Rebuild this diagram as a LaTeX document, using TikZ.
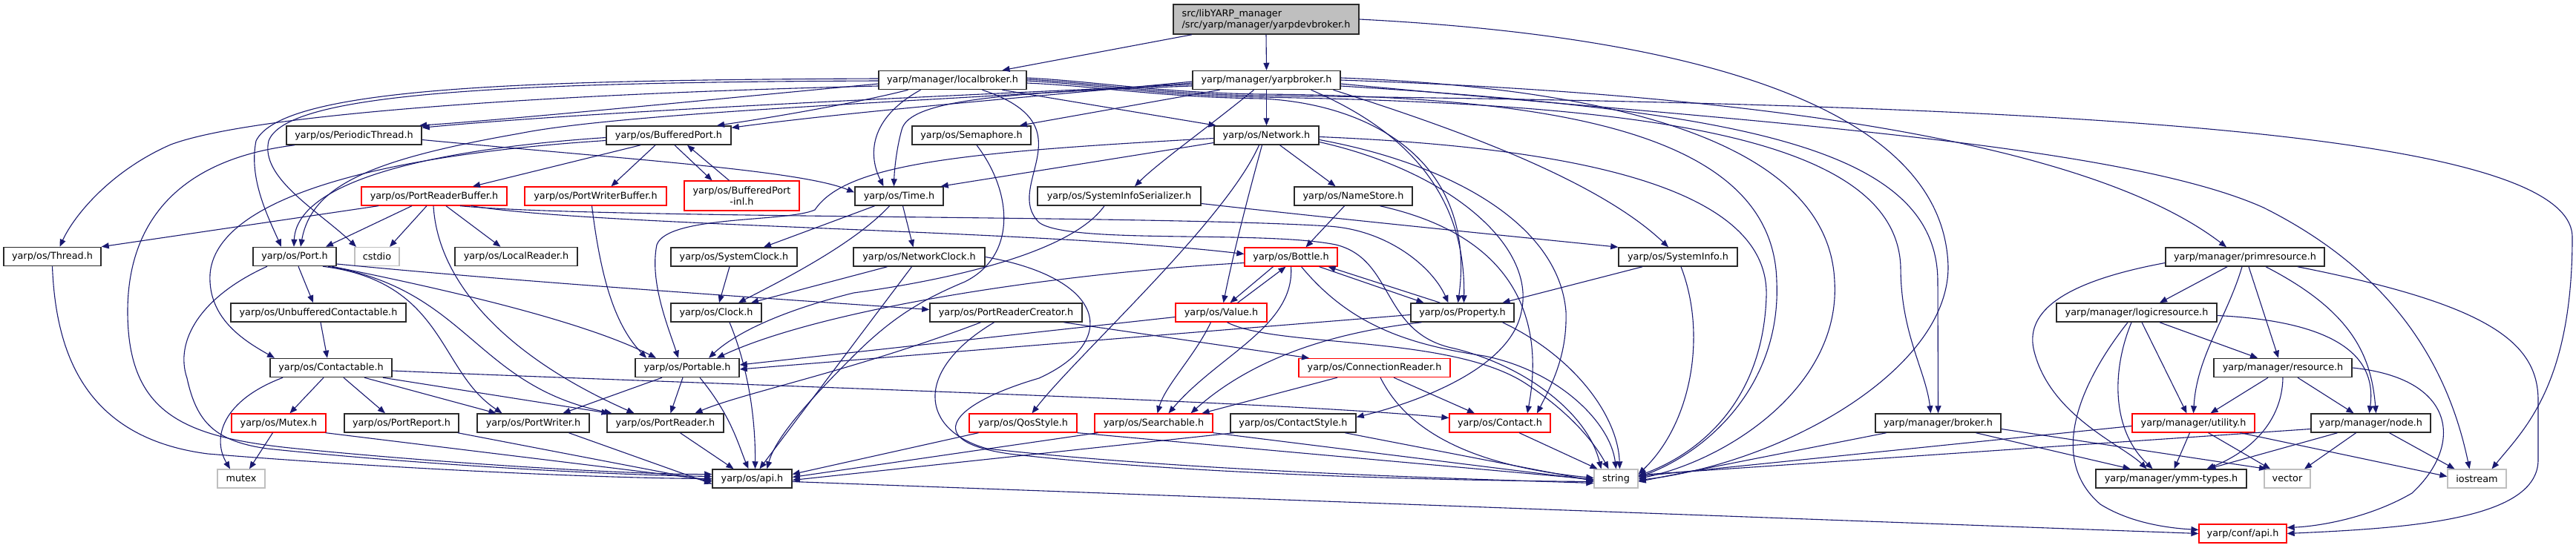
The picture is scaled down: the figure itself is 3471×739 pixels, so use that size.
\documentclass[tikz,border=0pt]{standalone}
\usepackage{fontspec}
\setmainfont{DejaVu Sans}
\usetikzlibrary{arrows.meta}
\definecolor{edgecol}{HTML}{191970}
\definecolor{sysgray}{HTML}{BFBFBF}
\definecolor{boxline}{HTML}{2A2A2A}
\newcommand{\lblfont}{\fontsize{12.8bp}{15bp}\selectfont}
\tikzset{
  nd/.style={draw=boxline, line width=1.5bp, rectangle, fill=white, inner sep=0pt, minimum height=25bp, font=\lblfont},
  rnd/.style={nd, draw=red, line width=1.3bp},
  snd/.style={nd, draw=sysgray, line width=1.3bp},
  ed/.style={draw=edgecol, line width=1.1bp, -{Triangle[length=10bp,width=8bp]}},
}
\begin{document}
\begin{tikzpicture}[x=1bp,y=-1bp]
\path[use as bounding box, fill=white] (0,0) rectangle (3471,739);

% ---------- nodes ----------
\node[nd, minimum width=250bp, minimum height=40bp, fill=sysgray, align=left] (top) at (1706,26) {src/libYARP\_manager\\/src/yarp/manager/yarpdevbroker.h};
\node[nd,minimum width=199bp] (lb) at (1283.5,108) {yarp/manager/localbroker.h};
\node[nd,minimum width=199bp] (yb) at (1706.5,108) {yarp/manager/yarpbroker.h};
\node[nd,minimum width=182bp] (pth) at (477,182.5) {yarp/os/PeriodicThread.h};
\node[nd,minimum width=168bp] (bp) at (901,182.5) {yarp/os/BufferedPort.h};
\node[nd,minimum width=160bp] (sem) at (1309,182.5) {yarp/os/Semaphore.h};
\node[nd,minimum width=141bp] (net) at (1706.5,182.5) {yarp/os/Network.h};
\node[rnd,minimum width=196bp] (prb) at (585,264.5) {yarp/os/PortReaderBuffer.h};
\node[rnd,minimum width=191bp] (pwb) at (802.5,264.5) {yarp/os/PortWriterBuffer.h};
\node[rnd,minimum width=155bp,minimum height=40bp,align=center] (bpi) at (999.5,264) {yarp/os/BufferedPort\\-inl.h};
\node[nd,minimum width=119bp] (time) at (1211.5,264.5) {yarp/os/Time.h};
\node[nd,minimum width=220bp] (sis) at (1508,264.5) {yarp/os/SystemInfoSerializer.h};
\node[nd,minimum width=159bp] (ns) at (1823.5,264.5) {yarp/os/NameStore.h};
\node[nd,minimum width=131bp] (thread) at (70.5,346) {yarp/os/Thread.h};
\node[nd,minimum width=112bp] (port) at (397,346) {yarp/os/Port.h};
\node[snd,minimum width=60bp] (cstdio) at (508,346) {cstdio};
\node[nd,minimum width=165bp] (lr) at (695.5,346) {yarp/os/LocalReader.h};
\node[nd,minimum width=170bp] (sc) at (989,346.5) {yarp/os/SystemClock.h};
\node[nd,minimum width=177bp] (nc) at (1238.5,346.5) {yarp/os/NetworkClock.h};
\node[rnd,minimum width=125bp] (bottle) at (1739.5,346.5) {yarp/os/Bottle.h};
\node[nd,minimum width=160bp] (si) at (2261,346.5) {yarp/os/SystemInfo.h};
\node[nd,minimum width=214bp] (prim) at (3025,346.5) {yarp/manager/primresource.h};
\node[nd,minimum width=236bp] (uc) at (429,421.5) {yarp/os/UnbufferedContactable.h};
\node[nd,minimum width=122bp] (clock) at (965,421.5) {yarp/os/Clock.h};
\node[nd,minimum width=205bp] (prc) at (1355.5,421.5) {yarp/os/PortReaderCreator.h};
\node[rnd,minimum width=123bp] (value) at (1645.5,421.5) {yarp/os/Value.h};
\node[nd,minimum width=139bp] (prop) at (1970.5,421.5) {yarp/os/Property.h};
\node[nd,minimum width=216bp] (logic) at (2879,421.5) {yarp/manager/logicresource.h};
\node[nd,minimum width=164bp] (ctb) at (446,496) {yarp/os/Contactable.h};
\node[nd,minimum width=140bp] (portable) at (926,496) {yarp/os/Portable.h};
\node[rnd,minimum width=204bp] (cr) at (1852,496) {yarp/os/ConnectionReader.h};
\node[nd,minimum width=186bp] (res) at (3076,496) {yarp/manager/resource.h};
\node[rnd,minimum width=127bp] (mutexh) at (375.5,570.5) {yarp/os/Mutex.h};
\node[nd,minimum width=154bp] (preport) at (541,570.5) {yarp/os/PortReport.h};
\node[nd,minimum width=151bp] (pwriter) at (718.5,570.5) {yarp/os/PortWriter.h};
\node[nd,minimum width=157bp] (preader) at (896.5,570.5) {yarp/os/PortReader.h};
\node[rnd,minimum width=145bp] (qos) at (1378.5,570.5) {yarp/os/QosStyle.h};
\node[rnd,minimum width=159bp] (search) at (1554.5,570.5) {yarp/os/Searchable.h};
\node[nd,minimum width=169bp] (cs) at (1742.5,570.5) {yarp/os/ContactStyle.h};
\node[rnd,minimum width=136bp] (contact) at (2021,570.5) {yarp/os/Contact.h};
\node[nd,minimum width=169bp] (broker) at (2611.5,570.5) {yarp/manager/broker.h};
\node[rnd,minimum width=165bp] (util) at (2955.5,570.5) {yarp/manager/utility.h};
\node[nd,minimum width=161bp] (nodeh) at (3194.5,570.5) {yarp/manager/node.h};
\node[snd,minimum width=64bp] (mutex) at (325,645.5) {mutex};
\node[nd,minimum width=107bp] (osapi) at (1013.5,645.5) {yarp/os/api.h};
\node[snd,minimum width=59bp] (str) at (2177.5,645.5) {string};
\node[nd,minimum width=203bp] (ymm) at (2925.5,645.5) {yarp/manager/ymm-types.h};
\node[snd,minimum width=62bp] (vec) at (3082,645.5) {vector};
\node[snd,minimum width=79bp] (ios) at (3337.5,645.5) {iostream};
\node[rnd,minimum width=118bp] (capi) at (3022,719.5) {yarp/conf/api.h};

% ---------- edges ----------
% yarpdevbroker
\draw[ed] ([xshift=-100bp]top.south) -- ([xshift=67bp]lb.north);
\draw[ed] (top.south) -- (yb.north);
\draw[ed] (top.east) .. controls (2300,50) and (2620,150) .. (2625,360) .. controls (2625,500) and (2400,625) .. ([yshift=-2bp]str.east);

% localbroker
\draw[ed] ([yshift=2bp]lb.west) .. controls (700,108) and (380,118) .. (345,190) .. controls (335,240) and (360,290) .. ([xshift=-18bp]port.north);
\draw[ed] ([yshift=-1bp]lb.west) .. controls (650,111) and (385,128) .. (362,190) .. controls (350,240) and (430,285) .. ([xshift=-28bp]cstdio.north);
\draw[ed] ([yshift=-8bp]lb.west) .. controls (800,125) and (350,150) .. (230,195) .. controls (150,230) and (100,290) .. ([xshift=10bp]thread.north);
\draw[ed] ([yshift=-5bp]lb.west) .. controls (950,135) and (700,160) .. ([xshift=88bp]pth.north);
\draw[ed] ([xshift=-60bp]lb.south) .. controls (1150,140) and (1030,160) .. ([xshift=65bp]bp.north);
\draw[ed] ([xshift=-43bp]lb.south) .. controls (1170,160) and (1170,210) .. ([xshift=-21bp]time.north);
\draw[ed] ([xshift=67bp]lb.south) -- ([xshift=-68bp]net.north);
\draw[ed] ([xshift=40bp]lb.south) .. controls (1470,170) and (1350,250) .. (1400,300) .. controls (1440,330) and (1700,310) .. (1800,330) .. controls (1880,350) and (1860,450) .. (1960,470) .. controls (2060,495) and (2140,560) .. ([xshift=-20bp]str.north);
\draw[ed] ([yshift=3bp]lb.east) .. controls (1480,110) and (1560,125) .. (1700,127) .. controls (2100,130) and (2390,180) .. (2394,380) .. controls (2400,520) and (2300,610) .. ([yshift=2bp]str.east);
\draw[ed] ([yshift=1bp]lb.east) .. controls (1480,112) and (1560,127) .. (1700,129) .. controls (2700,140) and (3466,170) .. (3466,320) .. controls (3466,520) and (3400,580) .. ([xshift=20bp]ios.north);
\draw[ed] ([yshift=-1bp]lb.east) .. controls (1480,114) and (1560,129) .. (1700,131) .. controls (2200,140) and (2555,180) .. (2561,360) .. controls (2561,450) and (2595,500) .. ([xshift=-10bp]broker.north);
\draw[ed] ([yshift=-4bp]lb.east) .. controls (1480,116) and (1560,131) .. (1700,133) .. controls (1850,140) and (1990,220) .. ([xshift=-6bp]prop.north);

% yarpbroker
\draw[ed] ([yshift=-6bp]yb.west) .. controls (1300,128) and (800,150) .. ([yshift=-3bp]pth.north east);
\draw[ed] ([yshift=-2bp]yb.west) .. controls (1400,130) and (1150,150) .. ([yshift=-3bp]bp.north east);
\draw[ed] ([yshift=-4bp]yb.west) .. controls (1300,135) and (850,150) .. (700,180) .. controls (500,215) and (420,250) .. ([xshift=8bp]port.north);
\draw[ed] ([yshift=-8bp]yb.west) .. controls (1350,125) and (1225,135) .. (1215,175) .. controls (1208,200) and (1205,230) .. ([xshift=-7bp]time.north);
\draw[ed] (yb.south) -- (net.north);
\draw[ed] ([xshift=-63bp]yb.south) -- ([xshift=65bp]sem.north);
\draw[ed] ([xshift=-17bp]yb.south) .. controls (1630,170) and (1560,220) .. ([xshift=21bp]sis.north);
\draw[ed] ([xshift=60bp]yb.south) .. controls (1880,170) and (1975,250) .. ([xshift=2bp]prop.north);
\draw[ed] ([xshift=90bp]yb.south) .. controls (1950,170) and (2150,240) .. ([xshift=-13bp]si.north);
\draw[ed] (yb.east) .. controls (2300,125) and (2800,180) .. ([xshift=-25bp]prim.north);
\draw[ed] ([yshift=3bp]yb.east) .. controls (2200,120) and (2465,200) .. (2472,380) .. controls (2480,520) and (2330,620) .. (str.east);
\draw[ed] ([yshift=-5bp]yb.east) .. controls (2300,160) and (2850,190) .. (3050,280) .. controls (3230,370) and (3300,500) .. ([xshift=-10bp]ios.north);
\draw[ed] ([yshift=-8bp]yb.east) .. controls (2350,150) and (2611,200) .. (2611,380) -- (broker.north);

% PeriodicThread
\draw[ed] ([yshift=-6bp]pth.east) .. controls (850,215) and (1080,230) .. ([yshift=5bp]time.west);
\draw[ed] ([xshift=-80bp]pth.south) .. controls (240,215) and (172,300) .. (172,420) .. controls (172,560) and (250,590) .. (400,605) .. controls (600,625) and (850,640) .. ([yshift=6bp]osapi.west);

% BufferedPort
\draw[ed] ([yshift=-3bp]bp.west) .. controls (600,200) and (400,240) .. ([xshift=-1bp]port.north);
\draw[ed] ([yshift=-7bp]bp.west) .. controls (500,210) and (290,270) .. (283,370) .. controls (280,430) and (330,460) .. ([xshift=-76bp]ctb.north);
\draw[ed] ([xshift=-38bp]bp.south) -- ([xshift=52bp]prb.north);
\draw[ed] ([xshift=-18bp]bp.south) -- ([xshift=21bp]pwb.north);
\draw[ed] ([xshift=8bp]bp.south) -- ([xshift=-40bp]bpi.north);
\draw[ed] ([xshift=-17bp]bpi.north) -- ([xshift=25bp]bp.south);

% Semaphore
\draw[ed] ([xshift=7bp]sem.south) .. controls (1365,260) and (1370,345) .. (1300,380) .. controls (1240,405) and (1200,430) .. (1150,480) .. controls (1090,540) and (1045,590) .. ([xshift=20bp]osapi.north);

% Network
\draw[ed] ([yshift=-10bp]net.west) -- ([xshift=-4bp]time.north east);
\draw[ed] ([yshift=-4bp]net.west) .. controls (1300,205) and (1140,220) .. (1098,283) .. controls (1060,300) and (900,290) .. (885,330) .. controls (875,380) and (900,440) .. ([xshift=-12bp]portable.north);
\draw[ed] ([xshift=18bp]net.south) -- ([xshift=-24bp]ns.north);
\draw[ed] ([xshift=-6bp]net.south) .. controls (1680,270) and (1660,350) .. ([xshift=3bp]value.north);
\draw[ed] ([xshift=-10bp]net.south) .. controls (1650,300) and (1450,480) .. ([xshift=12bp]qos.north);
\draw[ed] ([yshift=-6bp]net.east) .. controls (1950,220) and (2100,300) .. (2110,420) .. controls (2112,480) and (2090,520) .. ([xshift=50bp]contact.north);
\draw[ed] ([yshift=-2bp]net.east) .. controls (2150,200) and (2385,260) .. (2380,400) .. controls (2375,550) and (2280,615) .. ([yshift=4bp]str.east);
\draw[ed] ([yshift=-9bp]net.east) .. controls (1950,230) and (2070,330) .. (2050,420) .. controls (2035,500) and (1900,545) .. ([yshift=8bp]cs.east);

% PortReaderBuffer
\draw[ed] ([xshift=-75bp]prb.south) -- (thread.north east);
\draw[ed] ([xshift=-30bp]prb.south) -- ([xshift=42bp]port.north);
\draw[ed] ([xshift=-10bp]prb.south) -- ([xshift=17bp]cstdio.north);
\draw[ed] ([xshift=16bp]prb.south) -- ([xshift=-21bp]lr.north);
\draw[ed] ([xshift=-1bp]prb.south) .. controls (590,380) and (680,480) .. ([xshift=-42bp]preader.north);
\draw[ed] ([xshift=50bp]prb.south) .. controls (800,305) and (1400,310) .. ([yshift=4bp]bottle.west);
\draw[ed] ([xshift=35bp]prb.south) .. controls (800,295) and (1550,290) .. (1790,305) .. controls (1870,310) and (1930,360) .. ([xshift=-19bp]prop.north);

% PortWriterBuffer
\draw[ed] ([xshift=-5bp]pwb.south) .. controls (810,380) and (830,440) .. ([xshift=-55bp]portable.north);

% Time
\draw[ed] ([xshift=-13bp]time.south) .. controls (1150,330) and (1050,380) .. ([xshift=30bp]clock.north);
\draw[ed] ([xshift=-33bp]time.south) -- ([xshift=40bp]sc.north);
\draw[ed] ([xshift=5bp]time.south) -- ([xshift=-8bp]nc.north);

% SystemInfoSerializer
\draw[ed] ([yshift=-10bp]sis.east) .. controls (1800,295) and (2050,320) .. (si.north west);
\draw[ed] ([xshift=-20bp]sis.south) .. controls (1440,345) and (1260,380) .. (1150,395) .. controls (1050,420) and (990,450) .. ([xshift=29bp]portable.north);

% NameStore
\draw[ed] ([xshift=-12bp]ns.south) -- ([xshift=20bp]bottle.north);
\draw[ed] ([xshift=36bp]ns.south) .. controls (2050,320) and (2080,440) .. ([xshift=37bp]contact.north);

% Thread
\draw[ed] (thread.south) .. controls (75,470) and (110,590) .. (280,612) .. controls (500,630) and (800,645) .. ([yshift=0bp]osapi.west);

% Port
\draw[ed] ([xshift=5bp]port.south) -- ([xshift=-7bp]uc.north);
\draw[ed] ([xshift=-37bp]port.south) .. controls (270,400) and (235,460) .. (252,510) .. controls (265,570) and (290,595) .. (360,605) .. controls (550,625) and (800,640) .. ([yshift=3bp]osapi.west);
\draw[ed] ([xshift=38bp]port.south) .. controls (600,380) and (590,500) .. ([xshift=-42bp]pwriter.north);
\draw[ed] ([xshift=45bp]port.south) .. controls (630,390) and (640,520) .. ([xshift=-72bp]preader.north);
\draw[ed] ([xshift=50bp]port.south) .. controls (650,400) and (800,440) .. ([xshift=-42bp]portable.north);
\draw[ed] ([yshift=-10bp]port.east) .. controls (700,380) and (1000,400) .. ([yshift=4bp]prc.west);

% clocks
\draw[ed] ([xshift=-6bp]sc.south) -- ([xshift=4bp]clock.north);
\draw[ed] ([xshift=-43bp]nc.south) -- ([xshift=47bp]clock.north);
\draw[ed] ([xshift=-10bp]nc.south) -- ([xshift=10bp]osapi.north);
\draw[ed] (nc.east) .. controls (1490,375) and (1510,460) .. (1400,510) .. controls (1280,545) and (1240,595) .. (1360,612) .. controls (1600,640) and (1950,648) .. ([yshift=-4bp]str.west);
\draw[ed] ([xshift=18bp]clock.south) .. controls (1010,500) and (1018,570) .. ([xshift=4bp]osapi.north);

% Bottle / Value / Property
\draw[ed] ([xshift=-24bp]bottle.south) -- ([xshift=12bp]value.north);
\draw[ed] ([xshift=22bp]value.north) -- ([xshift=-7bp]bottle.south);
\draw[ed] ([xshift=38bp]bottle.south) -- ([xshift=-52bp]prop.north);
\draw[ed] ([xshift=-30bp]prop.north) -- ([xshift=50bp]bottle.south);
\draw[ed] ([yshift=-8bp]bottle.west) .. controls (1400,370) and (1100,420) .. ([xshift=40bp]portable.north);
\draw[ed] (bottle.south) .. controls (1745,440) and (1640,480) .. ([xshift=20bp]search.north);
\draw[ed] ([xshift=14bp]bottle.south) .. controls (1820,440) and (1900,465) .. (2000,480) .. controls (2100,500) and (2170,570) .. (str.north);
\draw[ed] ([yshift=-6bp]value.west) -- ([yshift=4bp]portable.east);
\draw[ed] ([xshift=-14bp]value.south) .. controls (1610,480) and (1570,520) .. ([xshift=5bp]search.north);
\draw[ed] ([xshift=8bp]value.south) .. controls (1720,470) and (1960,450) .. (2060,520) .. controls (2120,560) and (2150,600) .. ([xshift=-10bp]str.north);
\draw[ed] ([yshift=-3bp]prop.west) -- ([yshift=-2bp]portable.east);
\draw[ed] ([xshift=-55bp]prop.south) .. controls (1780,450) and (1680,490) .. ([xshift=50bp]search.north);
\draw[ed] ([xshift=54bp]prop.south) .. controls (2120,480) and (2180,560) .. ([xshift=5bp]str.north);

% SystemInfo
\draw[ed] ([xshift=-48bp]si.south) -- ([xshift=54bp]prop.north);
\draw[ed] ([xshift=4bp]si.south) .. controls (2300,450) and (2280,570) .. ([yshift=6bp]str.east);

% primresource
\draw[ed] ([xshift=-24bp]prim.south) -- ([xshift=31bp]logic.north);
\draw[ed] ([xshift=5bp]prim.south) -- ([xshift=-6bp]res.north);
\draw[ed] ([xshift=-4bp]prim.south) .. controls (3000,430) and (2960,480) .. (util.north);
\draw[ed] ([xshift=28bp]prim.south) .. controls (3170,420) and (3195,480) .. ([xshift=7bp]nodeh.north);
\draw[ed] ([yshift=-8bp]prim.west) .. controls (2780,380) and (2730,420) .. (2740,470) .. controls (2760,560) and (2860,600) .. ([xshift=-33bp]ymm.north);
\draw[ed] ([xshift=71bp]prim.south) .. controls (3350,410) and (3420,460) .. (3420,540) -- (3420,620) .. controls (3420,700) and (3250,712) .. (capi.east);

% logicresource
\draw[ed] ([xshift=31bp]logic.south) -- ([xshift=-34bp]res.north);
\draw[ed] ([xshift=7bp]logic.south) -- ([xshift=-9bp]util.north);
\draw[ed] ([xshift=-7bp]logic.south) .. controls (2845,500) and (2845,580) .. ([xshift=-25bp]ymm.north);
\draw[ed] ([xshift=-12bp]logic.south) .. controls (2800,520) and (2760,620) .. (2830,680) .. controls (2870,705) and (2920,712) .. ([yshift=5bp]capi.west);
\draw[ed] ([yshift=-4bp]logic.east) .. controls (3180,435) and (3200,500) .. ([xshift=-2bp]nodeh.north);

% resource
\draw[ed] ([xshift=-20bp]res.south) -- ([xshift=23bp]util.north);
\draw[ed] ([xshift=20bp]res.south) -- ([xshift=-23bp]nodeh.north);
\draw[ed] (res.south) .. controls (3075,570) and (3030,610) .. ([xshift=48bp]ymm.north);
\draw[ed] (res.east) .. controls (3310,510) and (3320,600) .. (3250,665) .. controls (3190,700) and (3120,710) .. ([yshift=8bp]capi.east);

% utility / node / broker
\draw[ed] ([xshift=-5bp]util.south) -- ([xshift=4bp]ymm.north);
\draw[ed] ([xshift=20bp]util.south) -- ([xshift=-23bp]vec.north);
\draw[ed] ([xshift=63bp]util.south) -- ([yshift=3bp]ios.west);
\draw[ed] ([yshift=-4bp]util.west) -- ([yshift=3bp]str.east);
\draw[ed] ([xshift=-45bp]nodeh.south) -- ([xshift=50bp]ymm.north);
\draw[ed] ([xshift=-20bp]nodeh.south) -- ([xshift=23bp]vec.north);
\draw[ed] ([xshift=25bp]nodeh.south) -- ([xshift=-30bp]ios.north);
\draw[ed] ([yshift=-8bp]nodeh.west) -- ([yshift=5bp]str.east);
\draw[ed] ([xshift=-70bp]broker.south) -- ([yshift=-4bp]str.east);
\draw[ed] ([xshift=51bp]broker.south) -- ([xshift=-55bp]ymm.north);
\draw[ed] ([yshift=-8bp]broker.east) -- ([xshift=-28bp]vec.north);

% Contactable
\draw[ed] ([xshift=3bp]uc.south) -- ([xshift=-5bp]ctb.north);
\draw[ed] ([xshift=-65bp]ctb.south) .. controls (300,540) and (285,590) .. ([xshift=-15bp]mutex.north);
\draw[ed] ([xshift=-10bp]ctb.south) -- ([xshift=15bp]mutexh.north);
\draw[ed] ([xshift=17bp]ctb.south) -- ([xshift=-22bp]preport.north);
\draw[ed] ([xshift=45bp]ctb.south) -- ([xshift=-50bp]pwriter.north);
\draw[ed] ([xshift=70bp]ctb.south) -- ([xshift=-76bp]preader.north);
\draw[ed] ([yshift=-4bp]ctb.east) .. controls (1000,520) and (1700,540) .. ([yshift=7bp]contact.west);

% leaves to api.h
\draw[ed] ([xshift=-8bp]mutexh.south) -- ([xshift=11bp]mutex.north);
\draw[ed] ([xshift=63bp]mutexh.south) -- ([yshift=-2bp]osapi.west);
\draw[ed] ([xshift=76bp]preport.south) -- ([yshift=-4bp]osapi.west);
\draw[ed] ([xshift=48bp]pwriter.south) -- ([yshift=-7bp]osapi.west);
\draw[ed] ([xshift=20bp]preader.south) -- ([xshift=-25bp]osapi.north);
\draw[ed] ([xshift=17bp]portable.south) .. controls (985,560) and (995,600) .. ([xshift=-5bp]osapi.north);
\draw[ed] ([xshift=-6bp]portable.south) -- ([xshift=7bp]preader.north);
\draw[ed] ([xshift=-34bp]portable.south) -- ([xshift=40bp]pwriter.north);

% PortReaderCreator
\draw[ed] ([xshift=-34bp]prc.south) .. controls (1150,500) and (1000,530) .. ([xshift=40bp]preader.north);
\draw[ed] ([xshift=-16bp]prc.south) .. controls (1230,500) and (1240,580) .. (1330,605) .. controls (1600,635) and (1950,645) .. ([yshift=-6bp]str.west);
\draw[ed] ([xshift=78bp]prc.south) -- ([xshift=-88bp]cr.north);

% ConnectionReader
\draw[ed] ([xshift=-50bp]cr.south) -- ([xshift=65bp]search.north);
\draw[ed] ([xshift=26bp]cr.south) -- ([xshift=-34bp]contact.north);
\draw[ed] ([xshift=8bp]cr.south) .. controls (1900,590) and (2000,630) .. ([yshift=1bp]str.west);

% styles, searchable, contact
\draw[ed] ([xshift=-60bp]qos.south) -- ([yshift=6bp]osapi.east);
\draw[ed] (qos.south east) -- ([yshift=-1bp]str.west);
\draw[ed] ([xshift=-75bp]search.south) -- ([yshift=2bp]osapi.east);
\draw[ed] (search.south east) -- ([yshift=-2bp]str.west);
\draw[ed] ([xshift=-80bp]cs.south) -- ([yshift=-2bp]osapi.east);
\draw[ed] ([xshift=70bp]cs.south) -- ([yshift=-3bp]str.west);
\draw[ed] ([xshift=26bp]contact.south) -- ([xshift=-25bp]str.north);

% api -> conf/api
\draw[ed] ([yshift=-4bp]osapi.east) -- (capi.west);
\end{tikzpicture}
\end{document}
